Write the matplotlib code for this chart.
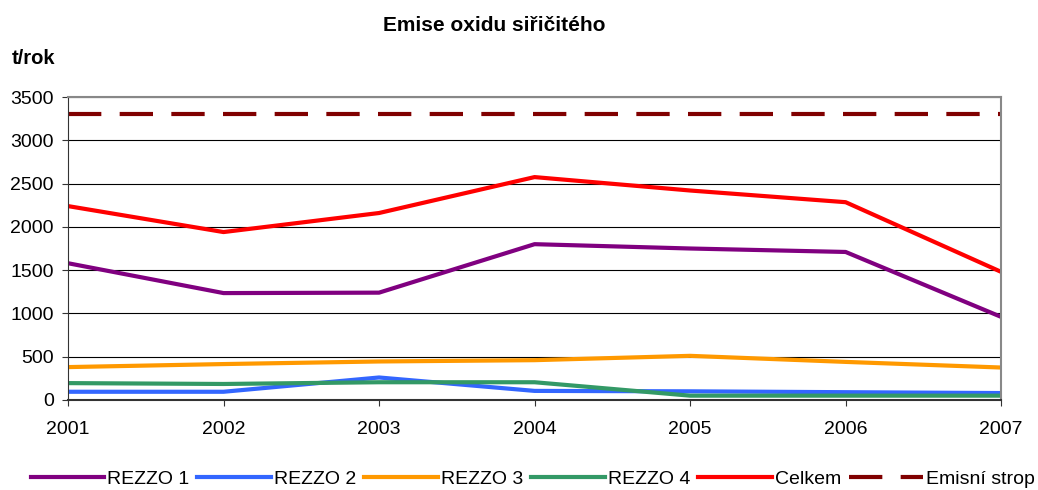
import matplotlib.pyplot as plt

plt.rcParams['font.family'] = ['Liberation Sans', 'DejaVu Sans']

# data
years = [2001, 2002, 2003, 2004, 2005, 2006, 2007]
rezzo1 = [1580, 1235, 1240, 1800, 1750, 1710, 960]
rezzo2 = [95, 95, 260, 105, 100, 90, 80]
rezzo3 = [380, 415, 445, 460, 510, 440, 375]
rezzo4 = [195, 185, 205, 205, 50, 50, 50]
celkem = [2240, 1940, 2160, 2575, 2420, 2285, 1480]
strop = [3300, 3300, 3300, 3300, 3300, 3300, 3300]

fig = plt.figure(figsize=(10.38, 4.9), dpi=100)
ax = fig.add_axes([0.0655, 0.1837, 0.899, 0.6183])

lw = 3
ax.plot(years, rezzo1, color='#800080', lw=lw, label='REZZO 1')
ax.plot(years, rezzo2, color='#3366FF', lw=lw, label='REZZO 2')
ax.plot(years, rezzo3, color='#FF9900', lw=lw, label='REZZO 3')
ax.plot(years, rezzo4, color='#339966', lw=lw, label='REZZO 4')
ax.plot(years, celkem, color='#FF0000', lw=lw, label='Celkem')
ax.plot(years, strop, color='#800000', lw=lw, dashes=(8, 4.4), label='Emisní strop')

ax.set_xlim(2001, 2007)
ax.set_ylim(0, 3500)
ax.set_xticks(years)
ax.set_yticks(range(0, 3501, 500))
ax.grid(axis='y', color='black', lw=0.8)
ax.set_axisbelow(True)
ax.tick_params(labelsize=14, length=4.3, color='#333333')
ax.tick_params(axis='y', pad=6)
ax.tick_params(axis='x', pad=11)
for s in ['top', 'right']:
    ax.spines[s].set_color('#888888')
    ax.spines[s].set_linewidth(1.5)
ax.spines['left'].set_color('#333333')
ax.spines['bottom'].set_color('#333333')
ax.spines['bottom'].set_linewidth(1.5)

fig.text(0.476, 0.947, 'Emise oxidu siřičitého', ha='center', va='center',
         fontsize=15, fontweight='bold')
fig.text(0.011, 0.88, 't/rok', ha='left', va='center', fontsize=14.5, fontweight='bold')

fig.legend(loc='center', bbox_to_anchor=(0.513, 0.023), ncol=6, frameon=False,
           fontsize=14, handlelength=3.8, handletextpad=0.15, columnspacing=0.4)

fig.savefig('out.png', dpi=100)
